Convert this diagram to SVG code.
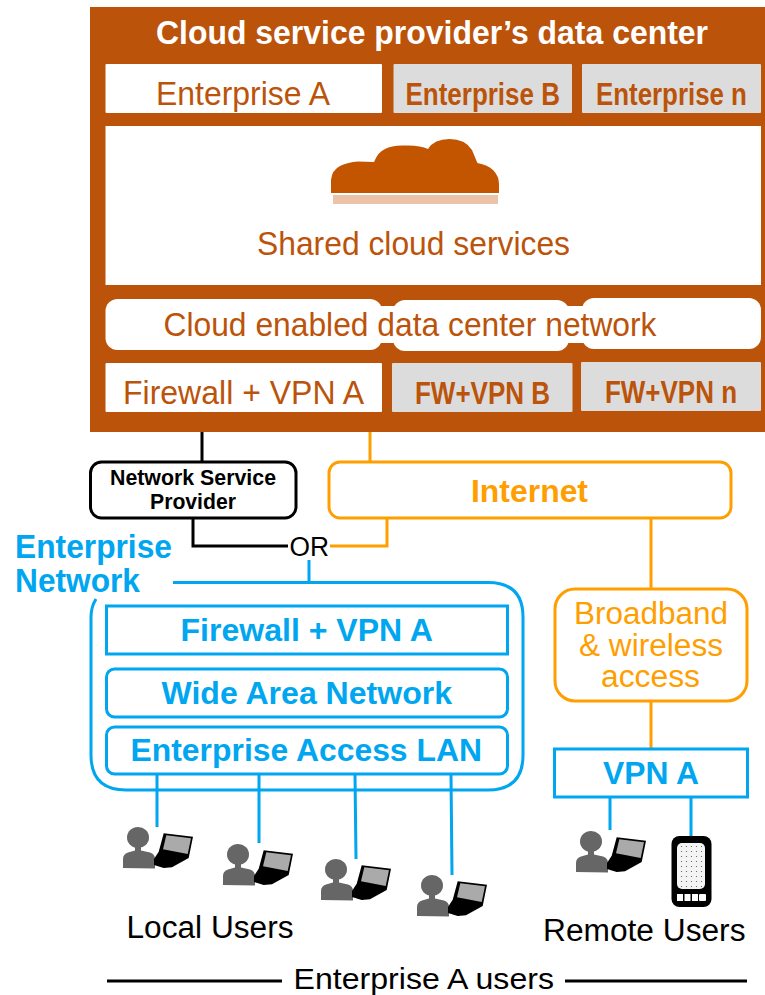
<svg xmlns="http://www.w3.org/2000/svg" width="765" height="995" viewBox="0 0 765 995">
<style>
text{font-family:"Liberation Sans",Arial,sans-serif}
.b{font-weight:bold}
.br{fill:#bb530a}
.bl{fill:#00a6f0}
.or{fill:#ff9e00}
.k{fill:#000}
.w{fill:#fff}
.g{fill:#dcdcdc}
.lb{fill:none;stroke:#00a6f0;stroke-width:3}
.lo{fill:none;stroke:#ff9e00;stroke-width:3}
.lk{fill:none;stroke:#000;stroke-width:3}
</style>
<defs>
<g id="user">
<ellipse cx="15" cy="10.500" rx="11" ry="10.500" fill="#666"/>
<path d="M0 41V32Q0 27 5 25.500L12 23.500V19H18V23.500L27 25.500Q32 27 32 32V41.500Z" fill="#666"/>
<path d="M31 32L35.700 24.700L40.700 6.300L70 9.700L65.700 31L49 40.300L40.700 41L31 38Z" fill="#000"/>
<path d="M43.300 8.300L68 11.300L64.700 27L40 22.300Z" fill="#aaa"/>
</g>
<pattern id="dots" width="5" height="5" patternUnits="userSpaceOnUse"><rect width="5" height="5" fill="#f4f4f4"/><circle cx="1.500" cy="1.500" r="0.600" fill="#555"/></pattern>
</defs>
<g id="connectors">
<path class="lk" d="M202 412V461"/>
<path class="lo" d="M370 412V462"/>
<path class="lk" d="M193 518V546H288"/>
<path class="lo" d="M330 546H387V518"/>
<path class="lb" d="M309 560V582"/>
<path class="lo" d="M651 518V589M651 701V749"/>
<path class="lb" d="M157 774V827M259 774V843M355 774L356 859M451 774L452 875M610 797V830M691 797V837"/>
<path class="lk" d="M107 981H282M565 981H747"/>
</g>
<g id="data-center">
<rect class="br" x="90" y="7" width="675" height="425"/>
<text class="w b" x="156" y="44" font-size="32.500" textLength="552" lengthAdjust="spacingAndGlyphs">Cloud service provider’s data center</text>
</g>
<g id="enterprise-a"><rect class="w" x="105.500" y="64" width="276.500" height="49" rx="1"/><text class="br" x="156" y="105" font-size="33" textLength="174" lengthAdjust="spacingAndGlyphs">Enterprise A</text></g>
<g id="enterprise-b"><rect class="g" x="393.500" y="64" width="178.500" height="49" rx="1"/><text class="br b" transform="translate(405.500 104.500) scale(.825 1)" font-size="31.500">Enterprise B</text></g>
<g id="enterprise-n"><rect class="g" x="582" y="64" width="179" height="49" rx="1"/><text class="br b" transform="translate(596 104.500) scale(.8215 1)" font-size="31.500">Enterprise n</text></g>
<g id="shared-cloud">
<rect class="w" x="105.500" y="126" width="655.500" height="159"/>
<path fill="#c45500" d="M331 193V180Q332 170 340 166Q348 162 358 161.500L374 162Q378 152 385 149Q392 145 405 145.500Q420 145 428 149Q434 139 449.500 139Q465 139 472 150L477.400 163Q488 165 493 170Q499 176 499 184V193Z"/>
<rect fill="#ecc3a8" x="333" y="195" width="165" height="9"/>
<text class="br" x="257" y="254.500" font-size="33" textLength="313" lengthAdjust="spacingAndGlyphs">Shared cloud services</text>
</g>
<g id="cloud-network">
<rect class="w" x="105.500" y="299" width="276.500" height="51" rx="12"/>
<rect class="w" x="393" y="300" width="176" height="51" rx="12"/>
<rect class="w" x="582" y="298" width="179" height="51" rx="12"/>
<rect class="w" x="375" y="306" width="215" height="37"/>
<text class="br" x="163.500" y="336" font-size="33" textLength="493" lengthAdjust="spacingAndGlyphs">Cloud enabled data center network</text>
</g>
<g id="fw-a"><rect class="w" x="105.500" y="363" width="276.500" height="49" rx="1"/><text class="br" x="123" y="404" font-size="33" textLength="241" lengthAdjust="spacingAndGlyphs">Firewall + VPN A</text></g>
<g id="fw-b"><rect class="g" x="392" y="363" width="180.500" height="49" rx="1"/><text class="br b" x="415" y="403.500" font-size="31.500" textLength="135" lengthAdjust="spacingAndGlyphs">FW+VPN B</text></g>
<g id="fw-n"><rect class="g" x="581" y="362" width="180" height="49" rx="1"/><text class="br b" x="605" y="402.500" font-size="31.500" textLength="132" lengthAdjust="spacingAndGlyphs">FW+VPN n</text></g>
<g id="nsp">
<rect x="90.500" y="462" width="205.500" height="56" rx="11" fill="#fff" stroke="#000" stroke-width="3"/>
<text class="b k" x="110" y="485" font-size="22" textLength="166" lengthAdjust="spacingAndGlyphs">Network Service</text>
<text class="b k" x="150" y="508.500" font-size="22" textLength="86" lengthAdjust="spacingAndGlyphs">Provider</text>
</g>
<g id="internet">
<rect x="329" y="462" width="402" height="56" rx="11" fill="#fff" stroke="#ff9e00" stroke-width="3"/>
<text class="b or" x="471" y="502" font-size="32" textLength="117" lengthAdjust="spacingAndGlyphs">Internet</text>
</g>
<g id="or-label"><text class="k" x="289.500" y="555.500" font-size="27" textLength="39.500" lengthAdjust="spacingAndGlyphs">OR</text></g>
<g id="enterprise-network">
<path class="lb" d="M173 582.500H488Q523 582.500 523 617V755Q523 790 488 790H126Q91 790 91 755V617Q91 607 96 599"/>
<text class="b bl" x="15" y="558" font-size="33" textLength="157" lengthAdjust="spacingAndGlyphs">Enterprise</text>
<text class="b bl" x="15" y="591.500" font-size="33" textLength="125" lengthAdjust="spacingAndGlyphs">Network</text>
</g>
<g id="ent-fw"><rect class="lb" x="106.500" y="606" width="401" height="48"/><text class="b bl" x="180.500" y="641" font-size="32" textLength="252.500" lengthAdjust="spacingAndGlyphs">Firewall + VPN A</text></g>
<g id="wan"><rect class="lb" x="106.500" y="669" width="401" height="48" rx="8"/><text class="b bl" x="161.500" y="704" font-size="32" textLength="290.500" lengthAdjust="spacingAndGlyphs">Wide Area Network</text></g>
<g id="lan"><rect class="lb" x="106.500" y="727" width="401" height="47" rx="8"/><text class="b bl" x="130.500" y="761" font-size="32" textLength="351.500" lengthAdjust="spacingAndGlyphs">Enterprise Access LAN</text></g>
<g id="broadband">
<rect x="555" y="589" width="192" height="112" rx="20" fill="#fff" stroke="#ff9e00" stroke-width="3"/>
<text class="or" x="574" y="624" font-size="31" textLength="154" lengthAdjust="spacingAndGlyphs">Broadband</text>
<text class="or" x="579" y="655.500" font-size="31" textLength="144" lengthAdjust="spacingAndGlyphs">&amp; wireless</text>
<text class="or" x="601" y="687" font-size="31" textLength="99" lengthAdjust="spacingAndGlyphs">access</text>
</g>
<g id="vpn-a"><rect x="554.500" y="749" width="193" height="48" fill="#fff" stroke="#00a6f0" stroke-width="3"/><text class="b bl" x="603" y="783.500" font-size="32" textLength="96" lengthAdjust="spacingAndGlyphs">VPN A</text></g>
<g id="local-users">
<use href="#user" x="123" y="827"/>
<use href="#user" x="223" y="844"/>
<use href="#user" x="321" y="859"/>
<use href="#user" x="417" y="875"/>
<text class="k" x="126.500" y="938" font-size="31" textLength="167" lengthAdjust="spacingAndGlyphs">Local Users</text>
</g>
<g id="remote-users">
<use href="#user" x="576" y="831"/>
<rect x="671.500" y="836" width="40" height="71" rx="8" fill="#000"/>
<rect x="677" y="843" width="28" height="46" rx="5" fill="url(#dots)"/>
<g fill="#fff"><rect x="677" y="894" width="6" height="7"/><rect x="684.500" y="894" width="6" height="7"/><rect x="692" y="894" width="6" height="7"/><rect x="699" y="894" width="7" height="7" rx="1"/></g>
<text class="k" x="543" y="941" font-size="31" textLength="202.500" lengthAdjust="spacingAndGlyphs">Remote Users</text>
</g>
<g id="enterprise-a-users"><text class="k" x="293.500" y="988.500" font-size="29.500" textLength="260.500" lengthAdjust="spacingAndGlyphs">Enterprise A users</text></g>
</svg>
